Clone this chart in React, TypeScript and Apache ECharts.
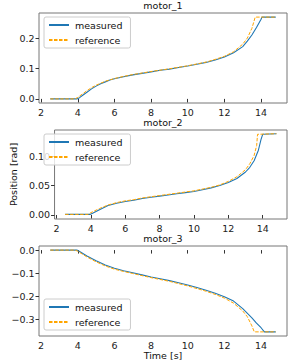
import React, { useEffect, useRef } from 'react';
import * as echarts from 'echarts';

const titles = ['motor_1', 'motor_2', 'motor_3'];
const seriesNames = ['measured', 'reference'];
const xTicks = [2, 4, 6, 8, 10, 12, 14];
const yTicks1 = [0, 0.1, 0.2];
const yTicks2 = [0, 0.05, 0.1];
const yTicks3 = [-0.3, -0.2, -0.1, 0];

const m1MeasT = [2.5, 3.0, 3.5, 3.95, 4.1, 4.25, 4.5, 4.75, 5.0, 5.25, 5.5, 5.75, 6.0, 6.5, 7.0, 7.5, 8.0, 8.5, 9.0, 9.5, 10.0, 10.5, 11.0, 11.5, 12.0, 12.5, 13.0, 13.25, 13.5, 13.75, 14.0, 14.05, 14.8];
const m1MeasV = [0, 0, 0, 0, 0.004, 0.011, 0.022, 0.033, 0.042, 0.05, 0.056, 0.062, 0.066, 0.073, 0.079, 0.084, 0.089, 0.094, 0.098, 0.103, 0.108, 0.114, 0.12, 0.128, 0.138, 0.152, 0.172, 0.19, 0.21, 0.235, 0.262, 0.269, 0.269];
const m1RefT = [2.5, 3.85, 4.0, 4.25, 4.5, 4.75, 5.0, 5.5, 6.0, 6.5, 7.0, 8.0, 9.0, 10.0, 11.0, 11.5, 12.0, 12.5, 13.0, 13.25, 13.5, 13.68, 14.8];
const m1RefV = [0, 0, 0.005, 0.016, 0.027, 0.037, 0.045, 0.058, 0.067, 0.074, 0.08, 0.09, 0.099, 0.109, 0.121, 0.13, 0.14, 0.155, 0.18, 0.2, 0.232, 0.269, 0.269];

const m2MeasT = [2.5, 3.95, 4.1, 4.5, 5.0, 5.5, 6.0, 6.5, 7.0, 7.5, 8.0, 8.5, 9.0, 9.5, 10.0, 10.5, 11.0, 11.5, 12.0, 12.5, 13.0, 13.25, 13.5, 13.75, 13.9, 14.0, 14.8];
const m2MeasV = [0.001, 0.001, 0.003, 0.009, 0.016, 0.02, 0.023, 0.025, 0.028, 0.03, 0.032, 0.034, 0.036, 0.038, 0.04, 0.043, 0.046, 0.05, 0.055, 0.062, 0.073, 0.081, 0.092, 0.11, 0.128, 0.137, 0.138];
const m2RefT = [2.5, 3.85, 4.0, 4.5, 5.0, 5.5, 6.0, 6.5, 7.0, 8.0, 9.0, 10.0, 11.0, 11.5, 12.0, 12.5, 13.0, 13.25, 13.5, 13.65, 13.7, 14.8];
const m2RefV = [0.001, 0.001, 0.004, 0.011, 0.017, 0.021, 0.024, 0.026, 0.029, 0.033, 0.037, 0.041, 0.047, 0.051, 0.057, 0.065, 0.077, 0.087, 0.101, 0.118, 0.137, 0.138];

const m3MeasT = [2.5, 3.95, 4.1, 4.5, 5.0, 5.5, 6.0, 6.5, 7.0, 7.5, 8.0, 8.5, 9.0, 9.5, 10.0, 10.5, 11.0, 11.5, 12.0, 12.5, 13.0, 13.5, 13.75, 14.0, 14.18, 14.8];
const m3MeasV = [0, 0, -0.006, -0.026, -0.046, -0.065, -0.079, -0.09, -0.099, -0.108, -0.117, -0.125, -0.133, -0.142, -0.152, -0.163, -0.175, -0.188, -0.203, -0.222, -0.255, -0.295, -0.318, -0.338, -0.356, -0.356];
const m3RefT = [2.5, 3.85, 4.0, 4.5, 5.0, 5.5, 6.0, 6.5, 7.0, 8.0, 9.0, 10.0, 11.0, 11.5, 12.0, 12.5, 13.0, 13.25, 13.5, 13.63, 14.8];
const m3RefV = [0, 0, -0.005, -0.03, -0.051, -0.069, -0.083, -0.093, -0.102, -0.12, -0.136, -0.156, -0.179, -0.193, -0.209, -0.231, -0.265, -0.29, -0.33, -0.356, -0.356];

const FONT = 'DejaVu Sans';
const BLUE = '#1f77b4';
const ORANGE = '#ffa500';

const zip = (t: number[], v: number[]) => t.map((x, i) => [x, v[i]]);
const fmtNum = (v: number, d: number) => (v < 0 ? '\u2212' : '') + Math.abs(v).toFixed(d);

export default function App() {
  const ref = useRef<HTMLDivElement>(null);
  useEffect(() => {
    if (!ref.current) return;
    const chart = echarts.init(ref.current, null, { renderer: 'svg' });
    const gridTops = [13, 130, 246];
    const gridHeights = [90, 89, 90];
    const yRanges = [
      [-0.0135, 0.2825],
      [-0.0068, 0.1443],
      [-0.374, 0.0178],
    ];
    const yTickSets = [yTicks1, yTicks2, yTicks3];
    const yDec = [1, 2, 1];
    const legendTops = [17, 134, 299];
    const data = [
      [zip(m1MeasT, m1MeasV), zip(m1RefT, m1RefV)],
      [zip(m2MeasT, m2MeasV), zip(m2RefT, m2RefV)],
      [zip(m3MeasT, m3MeasV), zip(m3RefT, m3RefV)],
    ];
    const axisTextStyle = { color: '#222', fontFamily: FONT, fontSize: 9.5 };
    const option: any = {
      animation: false,
      backgroundColor: '#fff',
      title: titles.map((t, i) => ({
        text: t,
        left: 163,
        top: gridTops[i] - 12.5,
        textAlign: 'center',
        padding: 0,
        textStyle: { ...axisTextStyle, fontWeight: 'normal', color: '#111' },
      })),
      grid: gridTops.map((top, i) => ({
        left: 39,
        width: 248,
        top,
        height: gridHeights[i],
        show: true,
        borderColor: '#777',
        borderWidth: 1,
        backgroundColor: 'transparent',
      })),
      legend: legendTops.map((top) => ({
        data: seriesNames,
        orient: 'vertical',
        left: 44,
        top,
        itemWidth: 20,
        itemHeight: 10,
        itemGap: 5,
        padding: [3, 8, 3, 4],
        backgroundColor: 'rgba(255,255,255,0.8)',
        borderColor: '#ccc',
        borderWidth: 1,
        borderRadius: 2,
        itemStyle: { opacity: 0 },
        textStyle: { ...axisTextStyle, color: '#111', padding: [0, 0, 0, 1] },
        selectedMode: false,
      })),
      xAxis: gridTops.map((_, i) => ({
        type: 'value',
        gridIndex: i,
        min: 1.885,
        max: 15.415,
        name: i === 2 ? 'Time [s]' : '',
        nameLocation: 'middle',
        nameGap: 13,
        nameTextStyle: { ...axisTextStyle, color: '#111' },
        axisLine: { show: false },
        splitLine: { show: false },
        axisTick: { show: true, length: 3.5, customValues: xTicks, lineStyle: { color: '#333' } },
        axisLabel: { customValues: xTicks, margin: 4, ...axisTextStyle, formatter: (v: number) => String(v) },
      })),
      yAxis: gridTops.map((_, i) => ({
        type: 'value',
        gridIndex: i,
        min: yRanges[i][0],
        max: yRanges[i][1],
        name: i === 1 ? 'Position [rad]' : '',
        nameLocation: 'middle',
        nameGap: 22,
        nameRotate: 90,
        nameTextStyle: { ...axisTextStyle, color: '#111' },
        axisLine: { show: false },
        splitLine: { show: false },
        axisTick: { show: true, length: 3.5, customValues: yTickSets[i], lineStyle: { color: '#333' } },
        axisLabel: {
          customValues: yTickSets[i],
          margin: 4.5,
          ...axisTextStyle,
          formatter: (v: number) => fmtNum(v, yDec[i]),
        },
      })),
      series: data.flatMap((pair, i) => [
        {
          name: 'measured',
          type: 'line',
          xAxisIndex: i,
          yAxisIndex: i,
          data: pair[0],
          symbol: 'none',
          lineStyle: { color: BLUE, width: 1.1 },
          itemStyle: { color: BLUE },
          z: 2,
        },
        {
          name: 'reference',
          type: 'line',
          xAxisIndex: i,
          yAxisIndex: i,
          data: pair[1],
          symbol: 'none',
          lineStyle: { color: ORANGE, width: 1.0, type: [3.5, 1.5] },
          itemStyle: { color: ORANGE },
          z: 3,
        },
      ]),
    };
    chart.setOption(option);
    return () => chart.dispose();
  }, []);
  return (
    <div
      ref={ref}
      style={{ position: 'absolute', left: 0, top: 0, width: 292, height: 364 }}
    />
  );
}
